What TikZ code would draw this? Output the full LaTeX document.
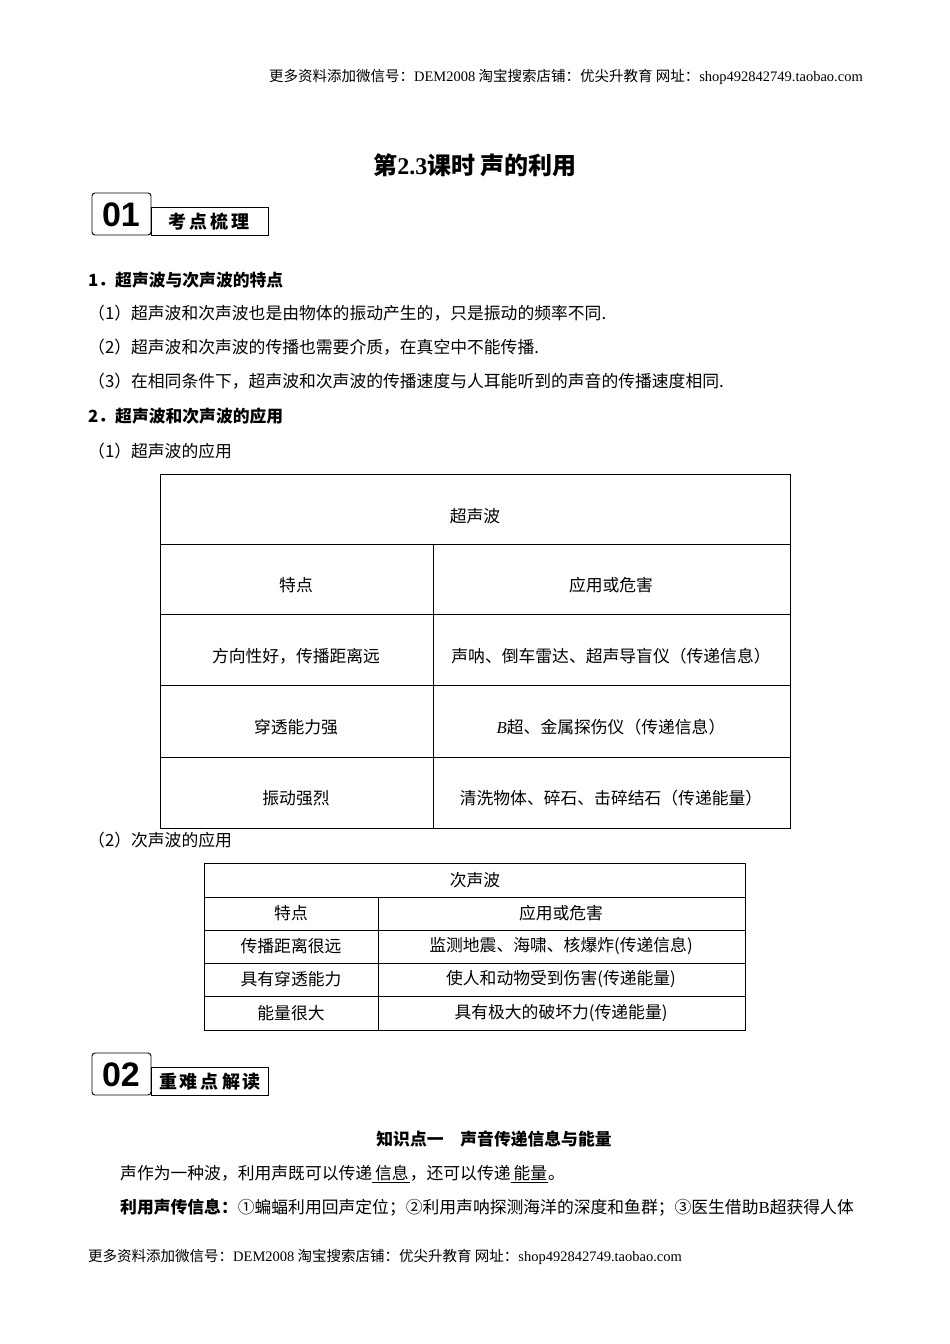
\documentclass[tikz,border=0pt]{standalone}
\usepackage{fontspec}
\setmainfont{Noto Sans CJK SC}
\newfontfamily\lat{Liberation Serif}
\newfontfamily\badge{Liberation Sans}
\begin{document}
\begin{tikzpicture}[x=1pt,y=-1pt,
  txt/.style={anchor=west,inner sep=0pt,font=\fontsize{16.8}{18}\selectfont},
  cell/.style={inner sep=0pt,font=\fontsize{16.8}{18}\selectfont},
  tb/.style={line width=0.8pt}]
\useasboundingbox[fill=white] (0,0) rectangle (950,1344);
\node[anchor=east,inner sep=0pt,font=\fontsize{14.5}{16}\selectfont] (hdr) at (863,77) {更多资料添加微信号：{\lat DEM2008} 淘宝搜索店铺：优尖升教育 网址：{\lat shop492842749.taobao.com}};
\node[inner sep=0pt,font=\fontsize{24}{26}\selectfont\bfseries] (title) at (475,165) {第{\lat\bfseries 2.3}课时 声的利用};
% badge 1
\draw[line width=0.9pt,rounded corners=3pt] (92,193) rectangle (151,235);
\draw[line width=0.9pt] (151,207) rectangle (268,235);
\node[inner sep=0pt,font=\badge\bfseries\fontsize{34}{34}\selectfont] (b1) at (121,215) {01};
\node[inner sep=0pt,font=\fontsize{18}{20}\selectfont\bfseries] (b1t) at (209,222) {考\,点\,梳\,理};
\node[txt,font=\fontsize{16.8}{18}\selectfont\bfseries] (s1) at (88,280) {1．超声波与次声波的特点};
\node[txt] (l1) at (88,313) {（1）超声波和次声波也是由物体的振动产生的，只是振动的频率不同.};
\node[txt] (l2) at (88,347) {（2）超声波和次声波的传播也需要介质，在真空中不能传播.};
\node[txt] (l3) at (88,381) {（3）在相同条件下，超声波和次声波的传播速度与人耳能听到的声音的传播速度相同.};
\node[txt,font=\fontsize{16.8}{18}\selectfont\bfseries] (s2) at (88,416) {2．超声波和次声波的应用};
\node[txt] (l4) at (88,451) {（1）超声波的应用};
% table 1
\draw[tb] (160,474) rectangle (790,828);
\foreach \y in {544,614,685,757} \draw[tb] (160,\y) -- (790,\y);
\draw[tb] (433,544) -- (433,828);
\node[cell] (t11) at (475,516) {超声波};
\node[cell] (t21) at (296,585) {特点};
\node[cell] (t22) at (611,585) {应用或危害};
\node[cell] (t31) at (296,656) {方向性好，传播距离远};
\node[cell] (t32) at (611,656) {声呐、倒车雷达、超声导盲仪（传递信息）};
\node[cell] (t41) at (296,727) {穿透能力强};
\node[cell] (t42) at (611,727) {{\lat\itshape B}超、金属探伤仪（传递信息）};
\node[cell] (t51) at (296,798) {振动强烈};
\node[cell] (t52) at (611,798) {清洗物体、碎石、击碎结石（传递能量）};
\node[txt] (l5) at (88,840) {（2）次声波的应用};
% table 2
\draw[tb] (204,863) rectangle (745,1030);
\foreach \y in {897,930,963,996} \draw[tb] (204,\y) -- (745,\y);
\draw[tb] (378,897) -- (378,1030);
\node[cell] (u11) at (475,880) {次声波};
\node[cell] (u21) at (291,913) {特点};
\node[cell] (u22) at (561,913) {应用或危害};
\node[cell] (u31) at (291,946) {传播距离很远};
\node[cell] (u32) at (561,946) {监测地震、海啸、核爆炸(传递信息)};
\node[cell] (u41) at (291,979) {具有穿透能力};
\node[cell] (u42) at (561,979) {使人和动物受到伤害(传递能量)};
\node[cell] (u51) at (291,1013) {能量很大};
\node[cell] (u52) at (561,1013) {具有极大的破坏力(传递能量)};
% badge 2
\draw[line width=0.9pt,rounded corners=3pt] (92,1053) rectangle (151,1095);
\draw[line width=0.9pt] (151,1067) rectangle (268,1095);
\node[inner sep=0pt,font=\badge\bfseries\fontsize{34}{34}\selectfont] (b2) at (121,1075) {02};
\node[inner sep=0pt,font=\fontsize{18}{20}\selectfont\bfseries] (b2t) at (210,1082) {重\,难\,点\,解\,读};
\node[inner sep=0pt,font=\fontsize{16.8}{18}\selectfont\bfseries] (k1) at (494,1139) {知识点一\quad 声音传递信息与能量};
\node[txt] (p1) at (120,1174) {声作为一种波，利用声既可以传递\underline{\hspace{3pt}信息\hspace{1pt}}，还可以传递\underline{\hspace{3pt}能量\hspace{1pt}}。};
\node[txt] (p2) at (120,1208) {\textbf{利用声传信息：}①蝙蝠利用回声定位；②利用声呐探测海洋的深度和鱼群；③医生借助{\lat B}超获得人体};
\node[txt,font=\fontsize{14.5}{16}\selectfont] (ftr) at (88,1257) {更多资料添加微信号：{\lat DEM2008} 淘宝搜索店铺：优尖升教育 网址：{\lat shop492842749.taobao.com}};
\end{tikzpicture}
\end{document}
